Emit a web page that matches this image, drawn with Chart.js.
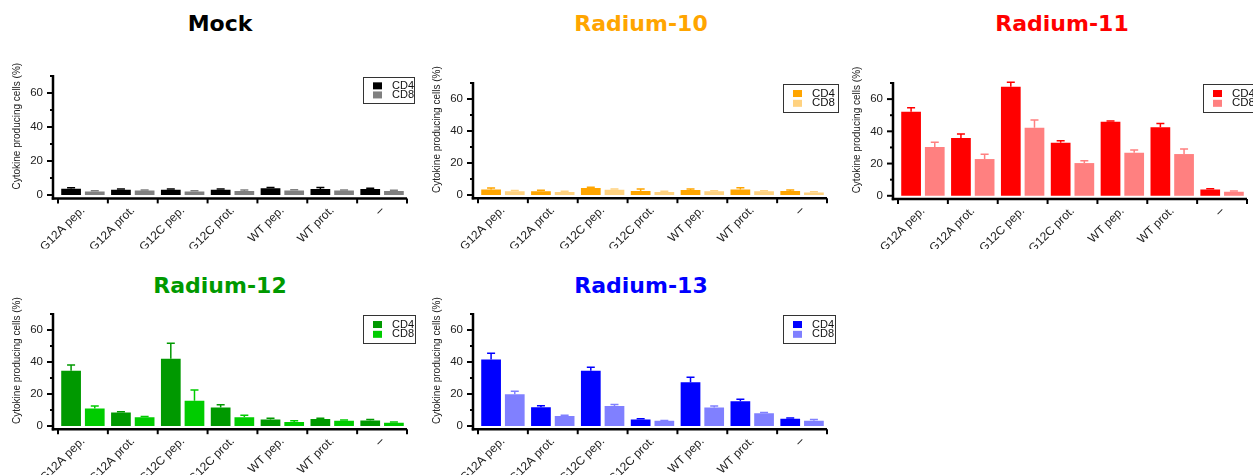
<!DOCTYPE html>
<html>
<head>
<meta charset="utf-8">
<script src="https://cdn.jsdelivr.net/npm/chart.js@4.4.0/dist/chart.umd.min.js"></script>
<style>
html, body { margin: 0; padding: 0; background: #fff; overflow: hidden; }
#page { position: relative; width: 1253px; height: 475px; overflow: hidden; }
.ttl { position: absolute; width: 420px; text-align: center; font: bold 22px "DejaVu Sans", Verdana, sans-serif; line-height: 26px; }
canvas { position: absolute; }
</style>
</head>
<body>
<div id="page"></div>
<script>
const categories = ['G12A pep.', 'G12A prot.', 'G12C pep.', 'G12C prot.', 'WT pep.', 'WT prot.', '–'];
const seriesNames = ['CD4', 'CD8'];
const yTicks = [0, 10, 20, 30, 40, 50, 60, 70];
const yLabelTicks = [0, 20, 40, 60];
const yTitle = 'Cytokine producing cells (%)';

// mean and upper error (SEM) per category
const mockCD4    = [3.7, 3.1, 3.1, 3.1, 3.9, 3.5, 3.5];
const mockCD4Err = [0.5, 0.4, 0.4, 0.5, 0.5, 0.9, 0.4];
const mockCD8    = [2.1, 2.6, 2.1, 2.4, 2.6, 2.6, 2.4];
const mockCD8Err = [0.4, 0.4, 0.4, 0.6, 0.5, 0.4, 0.4];

const r10CD4    = [3.5, 2.3, 4.4, 2.5, 3.1, 3.5, 2.5];
const r10CD4Err = [0.8, 0.6, 0.5, 1.3, 0.7, 1.0, 0.6];
const r10CD8    = [2.3, 1.9, 3.3, 1.9, 2.3, 2.3, 1.5];
const r10CD8Err = [0.5, 0.4, 0.4, 0.5, 0.3, 0.4, 0.5];

const r11CD4    = [52.2, 35.8, 67.7, 32.9, 46.0, 42.6, 3.9];
const r11CD4Err = [2.5, 2.5, 2.7, 1.3, 0.4, 2.3, 0.4];
const r11CD8    = [30.2, 22.8, 42.2, 20.3, 26.7, 25.9, 2.5];
const r11CD8Err = [3.1, 2.9, 4.8, 1.4, 1.7, 3.1, 0.4];

const r12CD4    = [34.6, 8.5, 42.1, 11.5, 4.0, 4.4, 3.5];
const r12CD4Err = [3.5, 0.4, 9.6, 1.8, 0.8, 0.4, 0.6];
const r12CD8    = [11.0, 5.4, 15.8, 5.4, 2.5, 3.3, 2.1];
const r12CD8Err = [1.5, 0.6, 6.7, 1.3, 0.8, 0.4, 0.4];

const r13CD4    = [41.5, 11.7, 34.6, 4.0, 27.3, 15.4, 4.6];
const r13CD4Err = [3.9, 1.0, 2.1, 0.6, 3.1, 1.3, 0.4];
const r13CD8    = [19.8, 6.3, 12.5, 3.3, 11.5, 7.9, 3.3];
const r13CD8Err = [1.9, 0.4, 1.0, 0.2, 1.0, 0.6, 0.8];

const CANVAS_W = 420, CANVAS_H = 270, XSCALE_H = 50;
const FONT = '"Liberation Sans", Arial, sans-serif';

const panels = [
    { name: 'Mock', titleColor: '#000000', left: 10, top: 0, titleX: 220, plotTop: 76, plotBottom: 198.4,
      colors: ['#000000', '#808080'], values: [mockCD4, mockCD8], errors: [mockCD4Err, mockCD8Err],
      legend: { w: 51, h: 26, font: 11, textX: 29 } },
    { name: 'Radium-10', titleColor: '#FFA500', left: 430, top: 0, titleX: 641, plotTop: 83, plotBottom: 198.2,
      colors: ['#FFA500', '#FFD280'], values: [r10CD4, r10CD8], errors: [r10CD4Err, r10CD8Err],
      legend: { w: 55, h: 28, font: 11.5, textX: 29 } },
    { name: 'Radium-11', titleColor: '#FF0000', left: 850, top: 0, titleX: 1062, plotTop: 83, plotBottom: 199,
      colors: ['#FF0000', '#FF8080'], values: [r11CD4, r11CD8], errors: [r11CD4Err, r11CD8Err],
      legend: { w: 55, h: 28, font: 11.5, textX: 29 } },
    { name: 'Radium-12', titleColor: '#009900', left: 10, top: 262, titleX: 220, plotTop: 314, plotBottom: 429.2,
      colors: ['#009900', '#00CC00'], values: [r12CD4, r12CD8], errors: [r12CD4Err, r12CD8Err],
      legend: { w: 52, h: 28, font: 11, textX: 29 } },
    { name: 'Radium-13', titleColor: '#0000FF', left: 430, top: 262, titleX: 641, plotTop: 314, plotBottom: 429.2,
      colors: ['#0000FF', '#8080FF'], values: [r13CD4, r13CD8], errors: [r13CD4Err, r13CD8Err],
      legend: { w: 52, h: 28, font: 11, textX: 29 } }
];

// GraphPad-style decorations: error bars, offset axes, boxed legend, y title
const prismPlugin = {
    id: 'prism',
    afterDatasetsDraw(chart) {
        const ctx = chart.ctx, y = chart.scales.y;
        const errs = chart.options.plugins.prism.errors;
        chart.data.datasets.forEach((ds, di) => {
            const meta = chart.getDatasetMeta(di);
            ctx.save();
            ctx.strokeStyle = ds.backgroundColor;
            ctx.lineWidth = 1.5;
            meta.data.forEach((bar, i) => {
                const top = y.getPixelForValue(ds.data[i] + errs[di][i]);
                ctx.beginPath();
                ctx.moveTo(bar.x, bar.y);
                ctx.lineTo(bar.x, top);
                ctx.moveTo(bar.x - 4, top);
                ctx.lineTo(bar.x + 4, top);
                ctx.stroke();
            });
            ctx.restore();
        });
    },
    afterDraw(chart) {
        const ctx = chart.ctx, ca = chart.chartArea;
        const x = chart.scales.x, y = chart.scales.y;
        const opts = chart.options.plugins.prism;
        const axisX = ca.left - 5;
        const base = y.getPixelForValue(y.min);
        ctx.save();
        ctx.strokeStyle = '#000';
        ctx.lineCap = 'butt';
        // y axis
        ctx.lineWidth = 2.5;
        ctx.beginPath();
        ctx.moveTo(axisX, y.getPixelForValue(y.max) - 1);
        ctx.lineTo(axisX, base + 1.25);
        ctx.stroke();
        ctx.lineWidth = 2;
        yTicks.forEach(v => {
            const py = y.getPixelForValue(v);
            const len = yLabelTicks.includes(v) ? 6 : 3;
            ctx.beginPath();
            ctx.moveTo(axisX - len, py);
            ctx.lineTo(axisX, py);
            ctx.stroke();
        });
        // x axis
        ctx.lineWidth = 2.5;
        ctx.beginPath();
        ctx.moveTo(axisX - 1.25, base);
        ctx.lineTo(ca.right, base);
        ctx.stroke();
        const step = (ca.right - ca.left) / categories.length;
        ctx.lineWidth = 2;
        for (let i = 0; i <= categories.length; i++) {
            const px = i < categories.length ? x.getPixelForValue(i) - step / 2 : x.getPixelForValue(i - 1) + step / 2;
            ctx.beginPath();
            ctx.moveTo(px, base);
            ctx.lineTo(px, base + 5);
            ctx.stroke();
        }
        // y title
        ctx.fillStyle = '#222';
        ctx.font = '10px ' + FONT;
        ctx.textAlign = 'center';
        ctx.textBaseline = 'middle';
        ctx.translate(axisX - 36, (ca.top + ca.bottom) / 2 - 11);
        ctx.rotate(-Math.PI / 2);
        ctx.fillText(yTitle, 0, 0);
        ctx.restore();

        // boxed legend
        const lg = opts.legend;
        const bx = ca.right - 44, by = ca.top + 1;
        ctx.save();
        ctx.fillStyle = '#fff';
        ctx.fillRect(bx, by, lg.w, lg.h);
        ctx.strokeStyle = '#333';
        ctx.lineWidth = 1;
        ctx.strokeRect(Math.round(bx) + 0.5, Math.round(by) + 0.5, lg.w, lg.h);
        ctx.font = lg.font + 'px ' + FONT;
        ctx.textAlign = 'left';
        ctx.textBaseline = 'middle';
        chart.data.datasets.forEach((ds, di) => {
            const cy = by + lg.h * (di === 0 ? 0.34 : 0.69);
            ctx.fillStyle = ds.backgroundColor;
            ctx.fillRect(bx + 10, cy - 3.5, 9, 7);
            ctx.fillStyle = '#111';
            ctx.fillText(ds.label, bx + lg.textX, cy);
        });
        ctx.restore();
    }
};

const page = document.getElementById('page');

panels.forEach(p => {
    const t = document.createElement('div');
    t.className = 'ttl';
    t.textContent = p.name;
    t.style.color = p.titleColor;
    t.style.left = (p.titleX - 210) + 'px';
    t.style.top = (p.top + 11) + 'px';
    page.appendChild(t);

    const cv = document.createElement('canvas');
    cv.width = CANVAS_W;
    cv.height = CANVAS_H;
    cv.style.left = p.left + 'px';
    cv.style.top = p.top + 'px';
    page.appendChild(cv);

    new Chart(cv, {
        type: 'bar',
        data: {
            labels: categories,
            datasets: seriesNames.map((s, i) => ({
                label: s,
                data: p.values[i],
                backgroundColor: p.colors[i],
                borderWidth: 0,
                categoryPercentage: 0.95,
                barPercentage: 0.833
            }))
        },
        options: {
            responsive: false,
            animation: false,
            layout: {
                padding: {
                    top: p.plotTop - p.top,
                    bottom: CANVAS_H - XSCALE_H - (p.plotBottom - p.top),
                    left: 0,
                    right: 23
                }
            },
            plugins: {
                legend: { display: false },
                tooltip: { enabled: false },
                prism: { errors: p.errors, legend: p.legend }
            },
            scales: {
                x: {
                    offset: true,
                    grid: { display: false, drawTicks: false },
                    border: { display: false },
                    ticks: {
                        autoSkip: false, minRotation: 45, maxRotation: 45, padding: 5,
                        color: '#222', font: { family: FONT, size: 12 }
                    },
                    afterFit: s => { s.height = XSCALE_H; }
                },
                y: {
                    min: -2,
                    max: 70,
                    grid: { display: false, drawTicks: false },
                    border: { display: false },
                    afterBuildTicks: s => { s.ticks = yTicks.map(v => ({ value: v })); },
                    afterFit: s => { s.width = 48; },
                    ticks: {
                        padding: 15, color: '#222', font: { family: FONT, size: 11.5 },
                        callback: v => yLabelTicks.includes(v) ? String(v) : ''
                    }
                }
            }
        },
        plugins: [prismPlugin]
    });
});
</script>
</body>
</html>
